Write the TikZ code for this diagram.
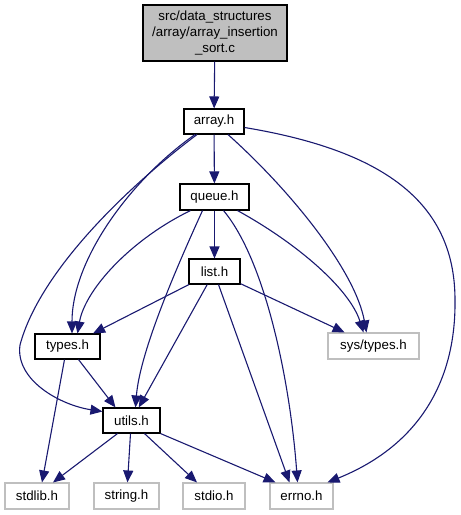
\documentclass[tikz,border=0pt]{standalone}
\usepackage{fontspec}
\setmainfont{Liberation Sans}
\usepackage{tikz}
\usetikzlibrary{arrows.meta}

\definecolor{edgeblue}{HTML}{191970}
\definecolor{sysgray}{HTML}{BFBFBF}

\begin{document}
\begin{tikzpicture}[x=1pt, y=-1pt,
    every node/.style={font=\fontsize{13.3}{16}\selectfont, inner sep=0pt, minimum height=25pt},
    hdr/.style={draw=black, line width=1.1pt, fill=white},
    sys/.style={draw=sysgray, line width=1.1pt, fill=white},
    dep/.style={draw=edgeblue, line width=1.1pt, -{Triangle[length=12pt,width=10pt]}, fill=none}]
    \useasboundingbox (0,0) rectangle (461,515);

    % the file and its own headers
    \node[hdr, fill=sysgray, minimum width=144pt, minimum height=56pt, align=center] (root) at (215,33)
        {src/data\_structures\\/array/array\_insertion\\\_sort.c};
    \node[hdr, minimum width=60pt] (arr) at (214,121.5) {array.h};
    \node[hdr, minimum width=69pt, minimum height=26pt] (queue) at (214.5,197) {queue.h};
    \node[hdr, minimum width=51pt] (list) at (214.5,271.5) {list.h};
    \node[hdr, minimum width=65pt] (types) at (67.5,346.5) {types.h};
    \node[hdr, minimum width=57pt] (utils) at (131.5,420.5) {utils.h};

    % system headers
    \node[sys, minimum width=91pt, minimum height=26pt] (systypes) at (373.5,346) {sys/types.h};
    \node[sys, minimum width=64pt, minimum height=26pt] (stdlib) at (37,496) {stdlib.h};
    \node[sys, minimum width=65pt, minimum height=26pt] (string) at (126.5,496) {string.h};
    \node[sys, minimum width=62pt, minimum height=26pt] (stdio) at (214,496) {stdio.h};
    \node[sys, minimum width=63pt, minimum height=26pt] (errno) at (301.5,496) {errno.h};

    % array.h
    \draw[dep] (root) -- (arr);
    \draw[dep] (arr) -- (queue);
    \draw[dep] ([xshift=-17]arr.south) .. controls (130,185) and (40,270) .. (20,345)
        .. controls (15,380) and (60,405) .. ([yshift=9]utils.west);
    \draw[dep] ([xshift=-19]arr.south) .. controls (130,180) and (72,260) .. ([xshift=4.5]types.north);
    \draw[dep] ([xshift=14]arr.south) .. controls (290,190) and (355,270) .. ([xshift=-7]systypes.north);
    \draw[dep] ([yshift=-6]arr.east) .. controls (380,150) and (455,200) .. (455,300)
        .. controls (456,380) and (420,445) .. ([xshift=26]errno.north);

    % queue.h
    \draw[dep] (queue) -- (list);
    \draw[dep] ([xshift=-24]queue.south) .. controls (130,240) and (85,290) .. ([xshift=10]types.north);
    \draw[dep] ([xshift=-12]queue.south) .. controls (180,260) and (140,350) .. ([xshift=4]utils.north);
    \draw[dep] ([xshift=9]queue.south) .. controls (265,260) and (290,380) .. ([xshift=-4]errno.north);
    \draw[dep] ([xshift=23]queue.south) .. controls (300,245) and (350,290) .. ([xshift=-10]systypes.north);

    % list.h
    \draw[dep] (list) -- (types);
    \draw[dep] (list) -- (utils);
    \draw[dep] (list) -- (systypes);
    \draw[dep] ([xshift=4]list.south) -- ([xshift=-12]errno.north);

    % types.h and utils.h
    \draw[dep] ([xshift=-3]types.south) -- ([xshift=5]stdlib.north);
    \draw[dep] ([xshift=11]types.south) -- ([xshift=-16]utils.north);
    \draw[dep] ([xshift=-14]utils.south) -- ([xshift=16]stdlib.north);
    \draw[dep] ([xshift=-1]utils.south) -- ([xshift=1]string.north);
    \draw[dep] ([xshift=13]utils.south) -- ([xshift=-17]stdio.north);
    \draw[dep] (utils.south east) -- ([xshift=-26]errno.north);
\end{tikzpicture}
\end{document}
